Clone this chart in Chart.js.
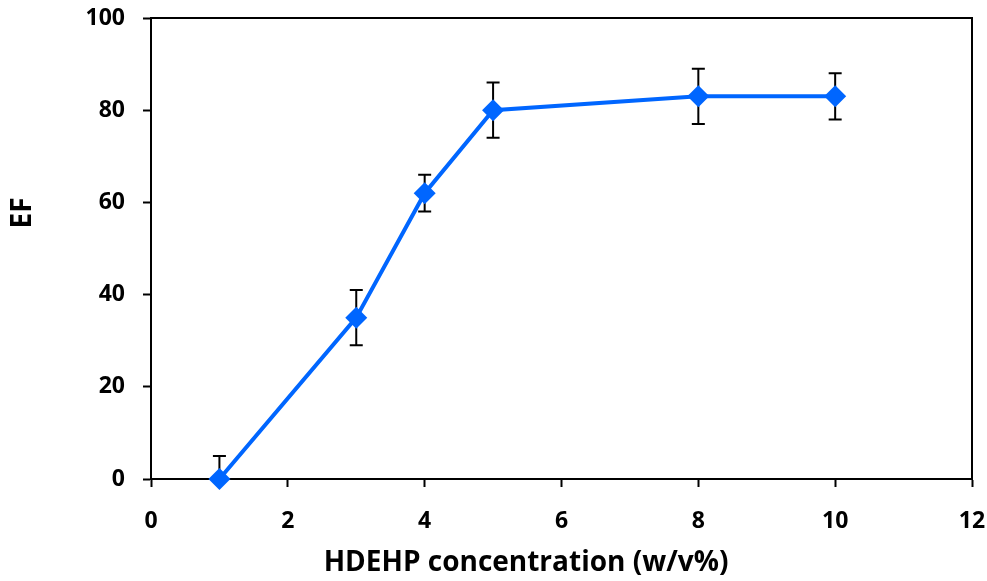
<!DOCTYPE html>
<html>
<head>
<meta charset="utf-8">
<title>EF vs HDEHP concentration</title>
<script src="https://cdn.jsdelivr.net/npm/chart.js@4.4.1/dist/chart.umd.min.js"></script>
<style>
    html, body { margin: 0; padding: 0; background: #ffffff; }
    #wrap { position: relative; width: 987px; height: 581px; }
</style>
</head>
<body>
<div id="wrap"><canvas id="efChart"></canvas></div>
<script>
    // Data
    const concentration = [1, 3, 4, 5, 8, 10];      // HDEHP concentration (w/v%)
    const efValues = [0, 35, 62, 80, 83, 83];       // enrichment factor
    const efErrors = [5, 6, 4, 6, 6, 5];            // +/- error bars
    const xTicks = [0, 2, 4, 6, 8, 10, 12];
    const yTicks = [0, 20, 40, 60, 80, 100];

    const xTitle = 'HDEHP concentration (w/v%)';
    const yTitle = 'EF';

    const FONT = "'Open Sans', 'DejaVu Sans', sans-serif";
    const BLUE = '#0066ff';

    /**
     * Error bars, drawn behind the markers
     */
    const errorBars = {
        id: 'errorBars',
        beforeDatasetsDraw(chart) {
            const ctx = chart.ctx;
            const xs = chart.scales.x;
            const ys = chart.scales.y;
            const area = chart.chartArea;
            const cap = 6.5;

            ctx.save();
            ctx.beginPath();
            ctx.rect(area.left - 20, area.top - 20, area.right - area.left + 40, area.bottom - area.top + 20);
            ctx.clip();
            ctx.strokeStyle = '#000000';
            ctx.lineWidth = 2;
            concentration.forEach((c, i) => {
                const px = xs.getPixelForValue(c);
                const top = ys.getPixelForValue(efValues[i] + efErrors[i]);
                const low = efValues[i] - efErrors[i];
                const bottom = ys.getPixelForValue(Math.max(low, ys.min));
                ctx.beginPath();
                ctx.moveTo(px, top);
                ctx.lineTo(px, bottom);
                ctx.moveTo(px - cap, top);
                ctx.lineTo(px + cap, top);
                if (low >= ys.min) {
                    ctx.moveTo(px - cap, bottom);
                    ctx.lineTo(px + cap, bottom);
                }
                ctx.stroke();
            });
            ctx.restore();
        }
    };

    /**
     * Box around the plot area and the two axis titles
     */
    const frameAndTitles = {
        id: 'frameAndTitles',
        afterDraw(chart) {
            const ctx = chart.ctx;
            const area = chart.chartArea;
            ctx.save();
            ctx.strokeStyle = '#000000';
            ctx.lineWidth = 2;
            ctx.beginPath();
            ctx.moveTo(area.left, area.top);
            ctx.lineTo(area.right, area.top);
            ctx.lineTo(area.right, area.bottom);
            ctx.stroke();

            ctx.fillStyle = '#000000';
            ctx.font = 'bold 28px ' + FONT;
            ctx.textAlign = 'center';
            ctx.textBaseline = 'middle';
            ctx.fillText(xTitle, 526, 563);

            ctx.translate(23, 213);
            ctx.rotate(-Math.PI / 2);
            ctx.fillText(yTitle, 0, 0);
            ctx.restore();
        }
    };

    function createChart() {
        const ctx = document.getElementById('efChart').getContext('2d');

        new Chart(ctx, {
            type: 'line',
            data: {
                datasets: [{
                    label: 'EF',
                    data: concentration.map((c, i) => ({ x: c, y: efValues[i] })),
                    borderColor: BLUE,
                    backgroundColor: BLUE,
                    borderWidth: 4,
                    pointStyle: 'rectRot',
                    pointRadius: 11,
                    pointHoverRadius: 11,
                    pointBorderWidth: 0,
                    pointBackgroundColor: BLUE,
                    tension: 0,
                    clip: false
                }]
            },
            options: {
                responsive: true,
                maintainAspectRatio: false,
                animation: false,
                layout: {
                    padding: { top: 18, right: 15, left: 0, bottom: 0 }
                },
                scales: {
                    x: {
                        type: 'linear',
                        min: 0,
                        max: 12,
                        afterFit(scale) {
                            scale.height = 102;
                            scale.paddingLeft = 0;
                            scale.paddingRight = 0;
                        },
                        afterBuildTicks(scale) { scale.ticks = xTicks.map(v => ({ value: v })); },
                        border: { display: true, color: '#000000', width: 2 },
                        grid: {
                            drawOnChartArea: false,
                            drawTicks: true,
                            tickLength: 8,
                            tickColor: '#000000',
                            tickWidth: 2
                        },
                        ticks: {
                            padding: 21,
                            color: '#000000',
                            font: { family: FONT, size: 23, weight: 'bold' },
                            maxRotation: 0
                        }
                    },
                    y: {
                        min: 0,
                        max: 100,
                        afterFit(scale) {
                            scale.width = 151;
                            scale.paddingTop = 0;
                            scale.paddingBottom = 0;
                        },
                        afterBuildTicks(scale) { scale.ticks = yTicks.map(v => ({ value: v })); },
                        border: { display: true, color: '#000000', width: 2 },
                        grid: {
                            drawOnChartArea: false,
                            drawTicks: true,
                            tickLength: 8,
                            tickColor: '#000000',
                            tickWidth: 2
                        },
                        ticks: {
                            padding: 18,
                            color: '#000000',
                            font: { family: FONT, size: 23, weight: 'bold' }
                        }
                    }
                },
                plugins: {
                    legend: { display: false },
                    tooltip: { enabled: false }
                }
            },
            plugins: [errorBars, frameAndTitles]
        });
    }

    if (document.fonts && document.fonts.load) {
        document.fonts.load("bold 23px 'Open Sans'").then(createChart, createChart);
    } else {
        createChart();
    }
</script>
</body>
</html>
